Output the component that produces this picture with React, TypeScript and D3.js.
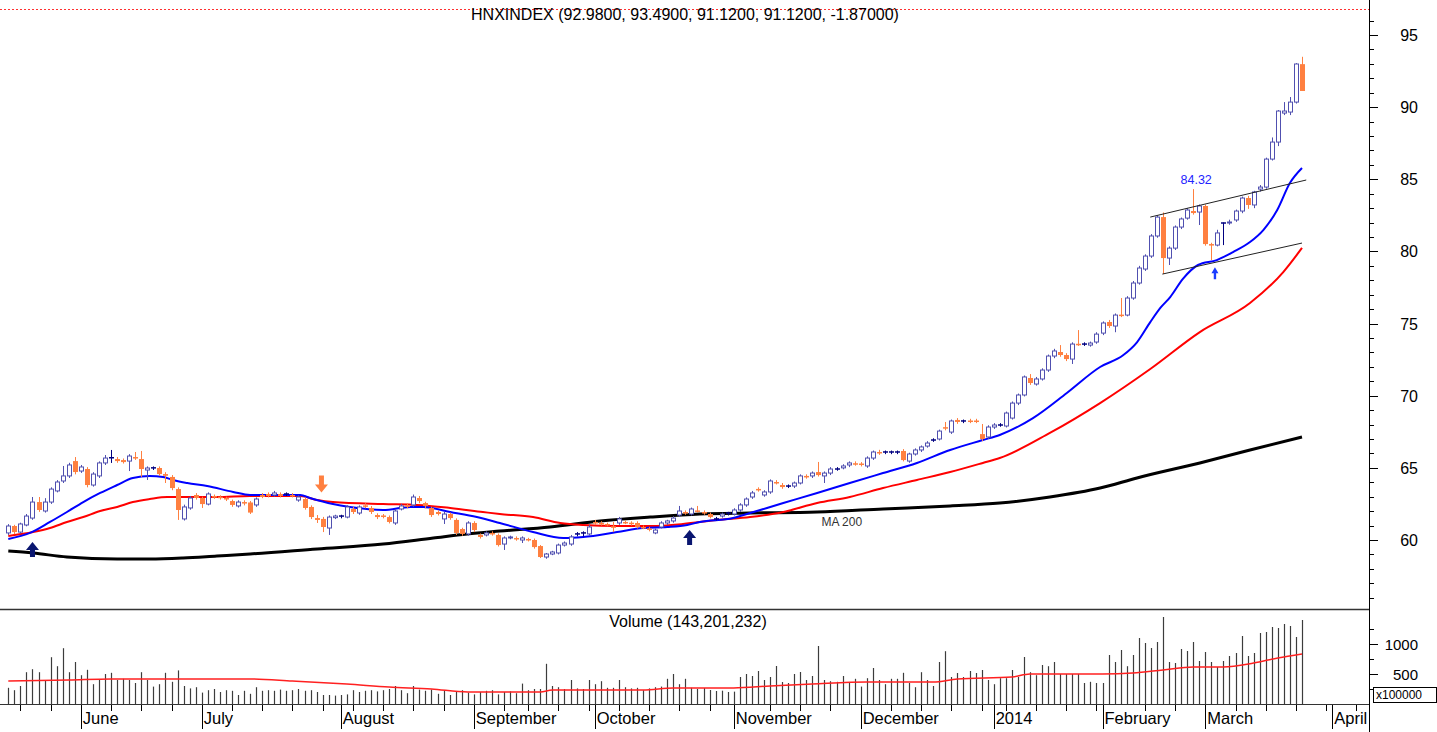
import React from "react";
import * as d3 from "d3";

// daily candles (index 0 = mid May 2013)
const opens = [
  60.49, 60.97, 60.55, 61.04, 61.52, 62.63, 62.01, 62.63, 63.4, 64.09, 64.44, 65.47, 64.78, 64.92, 63.81, 64.44, 65.34, 65.68, 65.61, 65.54,
  65.47, 65.75, 65.61, 64.85, 64.99, 64.99, 64.57, 64.37, 63.53, 61.46, 62.22, 63.12, 62.91, 62.49, 63.05, 63.0, 62.91, 62.7, 62.36, 62.63,
  62.6, 62.43, 63.12, 63.19, 63.12, 63.19, 63.19, 63.12, 62.77, 62.84, 62.29, 61.52, 61.46, 60.83, 61.55, 61.64, 61.59, 62.15, 61.87, 62.4,
  62.22, 61.73, 61.7, 61.59, 61.18, 62.15, 62.4, 62.43, 62.91, 62.56, 62.22, 61.94, 61.46, 61.8, 61.39, 60.76, 60.42, 61.18, 60.35, 60.35,
  60.49, 60.35, 59.72, 60.14, 60.14, 60.0, 60.07, 60.0, 59.58, 58.82, 59.03, 59.1, 59.65, 59.72, 60.4, 60.46, 60.42, 61.25, 61.18, 61.11,
  60.95, 61.18, 61.25, 61.2, 61.18, 60.9, 60.8, 60.49, 60.9, 61.18, 61.32, 61.73, 61.94, 61.8, 62.05, 61.94, 61.8, 61.46, 61.66, 61.85,
  61.8, 62.08, 62.43, 62.98, 63.54, 63.12, 63.33, 64.02, 63.81, 63.72, 63.74, 63.95, 64.44, 64.44, 64.71, 64.44, 64.64, 64.9, 65.0, 65.2,
  65.32, 65.3, 65.13, 65.68, 66.1, 66.08, 66.08, 66.08, 66.17, 65.47, 65.96, 66.24, 66.51, 66.91, 67.0, 67.82, 67.48, 68.32, 68.23, 68.28,
  68.28, 67.34, 67.14, 67.83, 67.95, 67.9, 68.45, 69.49, 70.05, 71.23, 70.81, 71.16, 71.78, 72.75, 73.03, 72.82, 72.54, 73.6, 73.56, 73.51,
  73.72, 74.34, 75.11, 74.83, 75.62, 75.59, 76.77, 77.81, 78.78, 79.68, 81.07, 82.38, 79.54, 80.23, 81.69, 82.31, 82.8, 82.73, 83.15, 80.51,
  80.44, 81.95, 81.97, 82.18, 82.8, 83.7, 83.22, 84.32, 84.46, 86.4, 87.58, 89.59, 89.66, 90.35, 92.98,
];
const highs = [
  61.1, 61.05, 61.2, 61.8, 62.98, 62.98, 62.9, 63.65, 64.15, 65.13, 65.35, 65.75, 65.2, 65.05, 64.7, 65.45, 65.89, 66.24, 65.75, 65.65,
  65.95, 66.1, 66.17, 65.1, 65.1, 65.1, 64.7, 64.5, 63.65, 62.45, 63.05, 63.25, 63.0, 63.3, 63.15, 63.1, 63.0, 62.8, 62.75, 62.75,
  62.7, 62.95, 63.25, 63.3, 63.4, 63.3, 63.3, 63.25, 63.1, 62.95, 62.4, 61.73, 61.6, 61.7, 61.75, 61.75, 62.4, 62.3, 62.4, 62.55,
  62.35, 61.85, 61.8, 61.7, 62.15, 62.5, 62.55, 63.15, 63.05, 62.65, 62.3, 62.05, 61.95, 61.9, 61.5, 60.85, 61.3, 61.3, 60.45, 60.6,
  60.6, 60.45, 60.25, 60.3, 60.25, 60.25, 60.15, 60.1, 59.65, 59.1, 59.25, 59.75, 59.9, 60.35, 60.55, 60.6, 61.05, 61.4, 61.3, 61.2,
  61.25, 61.6, 61.35, 61.3, 61.3, 61.0, 60.9, 60.8, 61.3, 61.4, 61.65, 62.36, 62.05, 62.25, 62.36, 62.05, 61.9, 61.6, 61.9, 61.95,
  62.2, 62.55, 62.95, 63.4, 63.65, 63.45, 64.2, 64.15, 63.95, 63.85, 64.05, 64.55, 64.55, 64.75, 65.41, 64.75, 65.05, 65.05, 65.25, 65.45,
  65.45, 65.4, 65.8, 66.2, 66.25, 66.2, 66.2, 66.2, 66.3, 66.05, 66.35, 66.55, 66.85, 67.05, 67.65, 68.18, 68.35, 68.45, 68.35, 68.4,
  68.4, 68.04, 67.95, 68.1, 68.1, 68.9, 69.6, 70.15, 71.4, 71.5, 71.3, 71.9, 72.85, 73.25, 73.51, 72.95, 73.7, 74.55, 73.7, 73.75,
  74.4, 75.15, 75.25, 75.7, 76.77, 76.9, 77.95, 79.0, 79.8, 81.2, 82.5, 82.7, 80.35, 81.8, 82.35, 83.0, 84.32, 83.25, 83.25, 80.6,
  81.5, 82.0, 82.2, 82.9, 83.8, 83.85, 84.2, 84.6, 86.5, 87.9, 89.8, 90.35, 90.7, 93.05, 93.49,
];
const lows = [
  60.35, 60.4, 60.45, 60.95, 61.4, 61.95, 61.9, 62.5, 63.3, 63.95, 64.3, 64.55, 64.65, 63.65, 63.7, 64.3, 65.2, 65.34, 65.35, 65.3,
  64.78, 65.55, 64.37, 64.16, 64.85, 64.45, 63.95, 63.45, 61.39, 61.35, 62.1, 62.8, 62.22, 62.4, 62.85, 62.8, 62.7, 62.3, 62.25, 62.4,
  61.8, 62.3, 62.9, 62.95, 63.0, 62.95, 63.05, 62.95, 62.65, 62.1, 61.45, 61.18, 60.55, 60.35, 61.45, 61.5, 61.5, 61.8, 61.75, 62.2,
  61.8, 61.45, 61.5, 61.15, 61.05, 62.05, 62.2, 62.3, 62.55, 62.2, 61.6, 61.7, 61.11, 61.4, 60.35, 60.3, 60.3, 60.55, 60.1, 60.25,
  60.3, 59.55, 59.31, 60.05, 59.95, 59.79, 59.9, 59.4, 58.75, 58.7, 58.95, 59.0, 59.55, 59.6, 60.25, 60.25, 60.3, 61.05, 61.0, 60.95,
  60.55, 61.05, 61.1, 61.0, 60.8, 60.75, 60.6, 60.4, 60.8, 61.05, 61.2, 61.6, 61.75, 61.7, 61.9, 61.75, 61.5, 61.35, 61.55, 61.7,
  61.7, 61.95, 62.3, 62.85, 63.35, 63.0, 63.2, 63.85, 63.55, 63.6, 63.6, 63.85, 64.25, 64.3, 64.4, 63.95, 64.5, 64.8, 64.9, 65.05,
  65.15, 65.1, 65.0, 65.55, 65.9, 65.95, 65.95, 65.95, 65.45, 65.35, 65.85, 66.1, 66.4, 66.8, 66.9, 67.6, 67.35, 68.05, 68.1, 68.1,
  68.1, 66.85, 67.0, 67.7, 67.85, 67.8, 68.35, 69.35, 69.95, 70.75, 70.7, 71.05, 71.65, 72.6, 72.7, 72.4, 72.2, 73.45, 73.45, 73.4,
  73.6, 74.2, 74.7, 74.4, 75.45, 75.5, 76.65, 77.7, 78.65, 79.55, 80.95, 78.43, 79.06, 80.1, 81.55, 82.2, 82.55, 81.83, 80.4, 79.4,
  80.35, 80.44, 81.85, 82.05, 82.65, 82.95, 83.0, 84.15, 84.35, 86.3, 87.3, 89.45, 89.45, 90.25, 91.12,
];
const closes = [
  60.97, 60.55, 61.11, 61.66, 62.63, 62.08, 62.63, 63.53, 64.02, 64.44, 65.2, 64.71, 65.06, 63.81, 64.57, 65.34, 65.68, 65.7, 65.47, 65.4,
  65.82, 65.65, 64.92, 64.99, 65.0, 64.57, 64.45, 63.6, 62.08, 62.29, 62.91, 62.91, 62.49, 63.19, 62.95, 62.9, 62.84, 62.43, 62.63, 62.53,
  61.9, 62.84, 62.98, 63.05, 63.26, 63.05, 63.19, 63.05, 62.98, 62.22, 61.59, 61.39, 60.9, 61.59, 61.66, 61.66, 62.29, 61.94, 62.29, 62.3,
  61.94, 61.59, 61.6, 61.25, 62.01, 62.36, 62.3, 62.98, 62.7, 62.36, 61.73, 61.8, 61.8, 61.52, 60.49, 60.42, 61.18, 60.69, 60.21, 60.49,
  60.42, 59.65, 60.14, 60.21, 60.07, 60.14, 60.0, 59.51, 58.82, 59.03, 59.17, 59.65, 59.79, 60.21, 60.42, 60.49, 60.9, 61.15, 61.11, 61.04,
  60.85, 61.46, 61.18, 61.1, 60.9, 60.83, 60.7, 60.69, 61.18, 61.32, 61.52, 62.01, 61.84, 62.15, 61.98, 61.87, 61.59, 61.46, 61.8, 61.87,
  62.08, 62.43, 62.84, 63.26, 63.47, 63.33, 64.09, 63.95, 63.67, 63.74, 63.95, 64.44, 64.37, 64.64, 64.5, 64.64, 64.92, 64.92, 65.13, 65.34,
  65.25, 65.22, 65.68, 66.1, 66.0, 66.1, 66.1, 66.1, 65.54, 65.96, 66.24, 66.45, 66.72, 66.93, 67.55, 67.72, 68.25, 68.18, 68.25, 68.2,
  68.2, 67.0, 67.83, 67.97, 67.97, 68.8, 69.49, 70.05, 71.3, 70.88, 71.16, 71.78, 72.75, 73.1, 72.82, 72.54, 73.58, 73.52, 73.58, 73.65,
  74.27, 75.04, 74.83, 75.59, 75.55, 76.77, 77.81, 78.85, 79.68, 81.07, 82.38, 79.54, 80.23, 81.69, 82.25, 82.87, 82.66, 83.15, 80.51, 80.44,
  81.28, 81.97, 82.04, 82.8, 83.7, 83.22, 84.12, 84.46, 86.4, 87.58, 89.73, 89.73, 90.35, 92.99, 91.12,
];
// volume, units of 100,000
const volumes = [
  270, 230, 300, 530, 580, 530, 400, 780, 630, 930, 530, 700, 480, 570, 330, 400, 500, 520, 400, 420,
  400, 350, 530, 400, 290, 330, 520, 370, 560, 300, 260, 280, 190, 230, 250, 200, 230, 220, 150, 220,
  170, 280, 220, 230, 220, 240, 220, 230, 250, 220, 230, 200, 150, 150, 140, 150, 160, 230, 200, 220,
  230, 210, 230, 250, 300, 230, 180, 300, 240, 220, 240, 170, 230, 150, 200, 230, 190, 160, 200, 220,
  230, 160, 200, 210, 180, 340, 230, 250, 250, 670, 300, 280, 250, 400, 260, 250, 400, 330, 380, 270,
  270, 400, 280, 260, 270, 230, 260, 280, 290, 420, 500, 330, 420, 270, 250, 267, 233, 217, 222, 200,
  206, 450, 500, 467, 550, 400, 450, 633, 367, 350, 500, 533, 400, 467, 967, 400, 380, 370, 467, 350,
  420, 290, 430, 600, 400, 330, 420, 420, 520, 350, 280, 530, 400, 300, 700, 880, 450, 517, 450, 550,
  517, 567, 400, 330, 430, 430, 567, 450, 783, 530, 480, 650, 630, 700, 500, 500, 500, 500, 350, 370,
  350, 350, 817, 700, 900, 630, 817, 1100, 1017, 933, 1033, 1450, 700, 683, 917, 883, 1033, 717, 867, 700,
  617, 717, 800, 850, 1133, 800, 850, 1183, 1200, 1283, 1267, 1333, 1300, 1117, 1400,
];

// moving averages, sampled along the drawn lines: [bar index, value]
const maBlue: [number, number][] = [
  [0, 60.07], [3.6, 60.49], [6.9, 61.25], [9.7, 61.94], [12.4, 62.63], [15.2, 63.26], [18, 63.81], [20.6, 64.3],
  [23.4, 64.44], [25.6, 64.37], [27.2, 64.16], [29.6, 63.95], [32.9, 63.74], [37.2, 63.33], [40, 63.12], [48.3, 63.12],
  [49.9, 62.91], [53.7, 62.49], [56.5, 62.29], [62, 62.08], [66.5, 62.29], [68.6, 62.29], [73.1, 61.94], [77.5, 61.59],
  [81.3, 61.18], [86.8, 60.55], [91.8, 60.14], [95.1, 60.21], [100.7, 60.55], [105, 60.83], [109, 60.9], [112.3, 61.04],
  [114.4, 61.25], [119.9, 61.52], [122.7, 61.87], [128.2, 62.56], [133.8, 63.26], [139.2, 63.95], [144.7, 64.64],
  [150.3, 65.34], [155.8, 66.24], [161.2, 66.93], [164, 67.28], [169.5, 68.45], [175.1, 70.19], [180.6, 71.99],
  [184.4, 72.8], [186.7, 73.7], [188.9, 75.1], [190.6, 76.1], [192.2, 76.84], [194.3, 78.1], [196.8, 79.06], [199.9, 79.4],
  [202.6, 79.96], [205.4, 80.65], [207.6, 81.48], [209.9, 82.87], [212, 84.74], [214, 85.78],
];
const maRed: [number, number][] = [
  [0, 60.28], [4.1, 60.55], [6.9, 60.83], [9.7, 61.25], [12.4, 61.59], [15.2, 62.01], [18, 62.29], [20.6, 62.63],
  [23.4, 62.84], [26.3, 62.98], [34.5, 62.98], [40, 63.05], [48.3, 63.05], [51.1, 62.77], [53.7, 62.63], [62, 62.49],
  [67.6, 62.43], [73.1, 62.22], [78.5, 61.94], [81.3, 61.8], [86.8, 61.59], [91.3, 61.18], [95.1, 61.04], [100.7, 60.97],
  [106.2, 60.97], [111.6, 61.11], [117.2, 61.39], [122.7, 61.59], [128.2, 61.94], [133.8, 62.56], [139.2, 62.98],
  [144.7, 63.6], [150.3, 64.16], [155.8, 64.71], [161.2, 65.34], [164, 65.68], [172.3, 67.42], [180.6, 69.49],
  [188.9, 71.85], [197.1, 74.41], [205.4, 76.42], [210.9, 78.57], [214, 80.24],
];
const ma200: [number, number][] = [
  [0, 59.24], [4.1, 59.1], [9.7, 58.82], [18, 58.68], [23.4, 58.68], [28.9, 58.75], [34.5, 58.89], [40, 59.03],
  [51.1, 59.38], [62, 59.72], [70.3, 60.14], [75.9, 60.42], [81.3, 60.62], [89.6, 60.9], [97.9, 61.32], [106.2, 61.59],
  [114.4, 61.8], [122.7, 61.87], [133.8, 61.94], [144.7, 62.15], [155.8, 62.36], [164, 62.56], [172.3, 62.98],
  [180.6, 63.6], [186.7, 64.3], [197.1, 65.34], [205.4, 66.24], [214, 67.14],
];
const volMa: [number, number][] = [
  [0, 383], [10, 400], [17, 417], [40, 417], [47, 383], [56, 333], [63, 283], [70, 250], [76, 200], [88, 200],
  [90, 233], [105, 233], [110, 267], [120, 267], [126, 300], [133, 333], [142, 367], [153, 367], [157, 417],
  [166, 450], [169, 500], [181, 500], [186, 517], [191, 567], [196, 617], [201, 617], [206, 683], [210, 767], [214, 833],
];

// channel lines: [index, price] pairs
const channelUpper: [number, number][] = [[188.9, 82.38], [214.7, 84.95]];
const channelLower: [number, number][] = [[190.9, 78.43], [214, 80.58]];

const upArrows = [{ i: 4, p: 59.86 }, { i: 112.7, p: 60.7 }];
const downArrows = [{ i: 51.8, p: 63.3 }];
const smallArrows = [{ i: 199.6, p: 78.9 }];

const monthLabels = ["June", "July", "August", "September", "October", "November", "December", "2014", "February", "March", "April"];
const monthStarts = [12, 32, 55, 77, 97, 120, 141, 163, 181, 198, 219];
const weekTicks = [2, 7, 17, 22, 27, 37, 42, 47, 52, 57, 62, 67, 72, 82, 86, 91, 96, 101, 106, 111, 116, 126, 131, 136, 146, 151, 156, 161, 165, 170, 175, 180, 188, 193, 203, 208, 213, 218, 223];
const priceLabels = [60, 65, 70, 75, 80, 85, 90, 95];
const volLabels = [500, 1000];

const FONT = "'Liberation Sans', Arial, sans-serif";
const AX = 1369;
const UP = "#5050b0";
const DOWN = "#ff8040";
const NAVY = "#000080";

export default function App() {
  const n = closes.length;
  const x = d3.scaleLinear().domain([0, n - 1]).range([8.3, 1302]);
  const y = d3.scaleLinear().domain([60, 95]).range([540, 35]);
  const yv = d3.scaleLinear().domain([0, 1000]).range([704, 644]);

  const priceLine = d3
    .line<[number, number]>()
    .x((d) => x(d[0]))
    .y((d) => y(d[1]))
    .curve(d3.curveMonotoneX);
  const volLine = d3
    .line<[number, number]>()
    .x((d) => x(d[0]))
    .y((d) => yv(d[1]))
    .curve(d3.curveMonotoneX);
  const straight = d3
    .line<[number, number]>()
    .x((d) => x(d[0]))
    .y((d) => y(d[1]));

  const minorTicks = d3.range(56, 97);

  return (
    <svg width={1437} height={732} style={{ position: "absolute", left: 0, top: 0, background: "#fff" }} fontFamily={FONT}>
      <rect x={0} y={0} width={1437} height={732} fill="#fff" />

      {/* top dotted line + title */}
      <line x1={0} x2={AX} y1={9.5} y2={9.5} stroke="#ff3030" strokeDasharray="2,2" />
      <text x={685} y={20} fontSize={16} textAnchor="middle" fill="#000">
        HNXINDEX (92.9800, 93.4900, 91.1200, 91.1200, -1.87000)
      </text>

      {/* panel frames */}
      <line x1={AX + 0.5} x2={AX + 0.5} y1={0} y2={732} stroke="#000" />
      <line x1={0} x2={AX} y1={609.5} y2={609.5} stroke="#333" strokeWidth={1.5} />
      <line x1={0} x2={AX} y1={704.5} y2={704.5} stroke="#333" />

      {/* price axis */}
      {minorTicks.map((v) => (
        <line key={"m" + v} x1={AX} x2={AX + (v % 5 === 0 ? 9 : 5)} y1={Math.round(y(v)) + 0.5} y2={Math.round(y(v)) + 0.5} stroke="#000" />
      ))}
      {priceLabels.map((v) => (
        <text key={"p" + v} x={1418} y={y(v) + 6} fontSize={16} textAnchor="end">
          {v}
        </text>
      ))}

      {/* volume axis */}
      {[250, 500, 750, 1000, 1250].map((v) => (
        <line key={"vt" + v} x1={AX} x2={AX + (v % 500 === 0 ? 9 : 5)} y1={Math.round(yv(v)) + 0.5} y2={Math.round(yv(v)) + 0.5} stroke="#000" />
      ))}
      {volLabels.map((v) => (
        <text key={"v" + v} x={1418} y={yv(v) + 6} fontSize={15} textAnchor="end">
          {v}
        </text>
      ))}
      <rect x={1373.5} y={687.5} width={63} height={15} fill="#fff" stroke="#000" />
      <text x={1376} y={699} fontSize={12}>
        x100000
      </text>

      {/* moving averages */}
      <path d={priceLine(ma200) || ""} fill="none" stroke="#000" strokeWidth={3} />
      <path d={priceLine(maRed) || ""} fill="none" stroke="#ff0000" strokeWidth={2} />
      <path d={priceLine(maBlue) || ""} fill="none" stroke="#0000ff" strokeWidth={2} />

      {/* candles */}
      {closes.map((c, i) => {
        const o = opens[i];
        const cx = Math.round(x(i));
        const doji = Math.abs(c - o) < 0.05;
        const col = doji ? NAVY : c > o ? UP : DOWN;
        const top = y(Math.max(o, c));
        const bot = y(Math.min(o, c));
        return (
          <g key={"c" + i}>
            <line x1={cx + 0.5} x2={cx + 0.5} y1={y(highs[i])} y2={y(lows[i])} stroke={col} />
            {doji ? (
              <line x1={cx - 2} x2={cx + 3} y1={top} y2={top} stroke={NAVY} strokeWidth={1.5} />
            ) : c > o ? (
              <rect x={cx - 1.5} y={top} width={4} height={Math.max(bot - top, 1)} fill="#fff" stroke={UP} />
            ) : (
              <rect x={cx - 2} y={top} width={5} height={Math.max(bot - top, 1.5)} fill={DOWN} />
            )}
          </g>
        );
      })}

      {/* channel */}
      <path d={straight(channelUpper) || ""} stroke="#222" strokeWidth={1} fill="none" />
      <path d={straight(channelLower) || ""} stroke="#222" strokeWidth={1} fill="none" />

      {/* annotations */}
      <text x={x(196) + 3} y={y(84.32) - 5} fontSize={12.5} fill="#2424ff" textAnchor="middle">
        84.32
      </text>
      <text x={x(134.5)} y={y(60) - 14} fontSize={12} fill="#333">
        MA 200
      </text>
      {upArrows.map((a, k) => {
        const ax = x(a.i);
        const ay = y(a.p);
        return (
          <path
            key={"ua" + k}
            d={`M${ax},${ay} L${ax + 6.5},${ay + 8} L${ax + 2.5},${ay + 8} L${ax + 2.5},${ay + 15} L${ax - 2.5},${ay + 15} L${ax - 2.5},${ay + 8} L${ax - 6.5},${ay + 8} Z`}
            fill="#0a1670"
          />
        );
      })}
      {downArrows.map((a, k) => {
        const ax = x(a.i);
        const ay = y(a.p);
        return (
          <path
            key={"da" + k}
            d={`M${ax},${ay} L${ax + 6.5},${ay - 8} L${ax + 2.5},${ay - 8} L${ax + 2.5},${ay - 17} L${ax - 2.5},${ay - 17} L${ax - 2.5},${ay - 8} L${ax - 6.5},${ay - 8} Z`}
            fill={DOWN}
          />
        );
      })}
      {smallArrows.map((a, k) => {
        const ax = x(a.i);
        const ay = y(a.p);
        return (
          <path
            key={"sa" + k}
            d={`M${ax},${ay} L${ax + 3.5},${ay + 6} L${ax + 1.2},${ay + 6} L${ax + 1.2},${ay + 12} L${ax - 1.2},${ay + 12} L${ax - 1.2},${ay + 6} L${ax - 3.5},${ay + 6} Z`}
            fill="#1a3cff"
          />
        );
      })}

      {/* volume */}
      <text x={688} y={627} fontSize={16} textAnchor="middle">
        Volume (143,201,232)
      </text>
      {volumes.map((v, i) => (
        <line key={"v" + i} x1={Math.round(x(i)) + 0.5} x2={Math.round(x(i)) + 0.5} y1={yv(0)} y2={yv(v)} stroke="#3c3c3c" strokeWidth={1.2} />
      ))}
      <path d={volLine(volMa) || ""} fill="none" stroke="#ff2020" strokeWidth={1.5} />

      {/* time axis */}
      {weekTicks.map((t) => (
        <line key={"w" + t} x1={Math.round(x(t)) + 0.5} x2={Math.round(x(t)) + 0.5} y1={705} y2={711} stroke="#000" />
      ))}
      {monthStarts.map((t, k) => (
        <g key={"mo" + k}>
          <line x1={Math.round(x(t)) + 0.5} x2={Math.round(x(t)) + 0.5} y1={705} y2={729} stroke="#000" />
          <text x={x(t) + 2} y={724} fontSize={16.5}>
            {monthLabels[k]}
          </text>
        </g>
      ))}
    </svg>
  );
}
